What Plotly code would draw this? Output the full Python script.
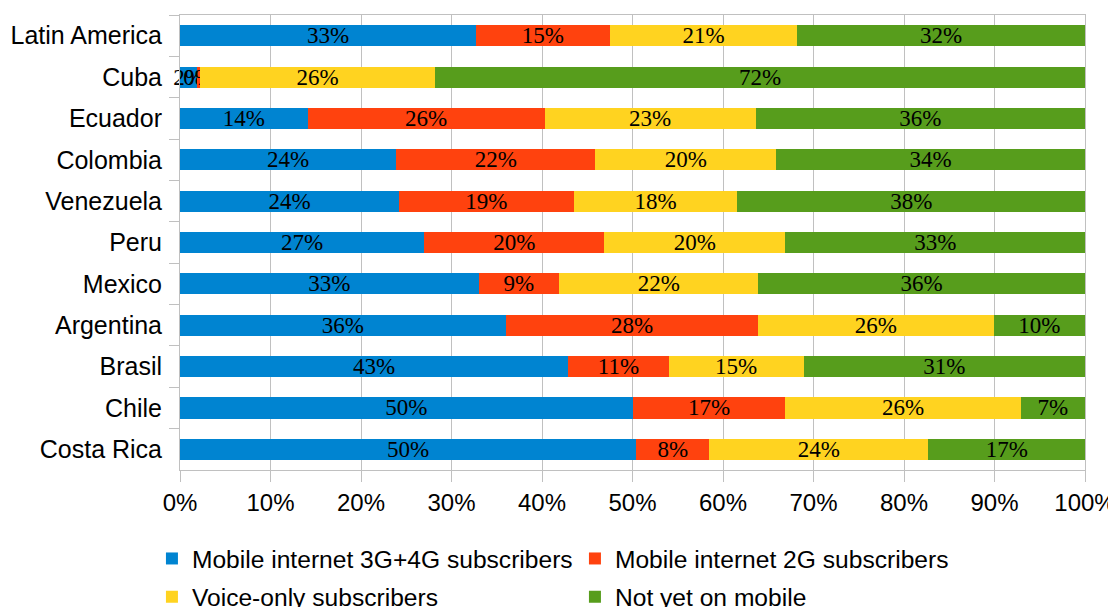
import plotly.graph_objects as go

# categories top to bottom as in the chart
countries = ["Latin America", "Cuba", "Ecuador", "Colombia", "Venezuela", "Peru",
             "Mexico", "Argentina", "Brasil", "Chile", "Costa Rica"]

# shares in percent
mobile_3g4g = [32.7, 1.9, 14.1, 23.9, 24.2, 27.0, 33.0, 36.0, 42.9, 50.0, 50.4]
mobile_2g = [14.8, 0.3, 26.2, 22.0, 19.3, 19.9, 8.9, 27.9, 11.1, 16.9, 8.1]
voice_only = [20.7, 26.0, 23.3, 20.0, 18.1, 20.0, 22.0, 26.0, 14.9, 26.0, 24.2]
not_mobile = [31.8, 71.8, 36.4, 34.1, 38.4, 33.1, 36.1, 10.1, 31.1, 7.1, 17.3]

series = [
    ("Mobile internet 3G+4G subscribers", mobile_3g4g, "#0084d1", "legend"),
    ("Mobile internet 2G subscribers", mobile_2g, "#ff420e", "legend"),
    ("Voice-only subscribers", voice_only, "#ffd320", "legend2"),
    ("Not yet on mobile", not_mobile, "#579d1c", "legend2"),
]

fig = go.Figure()
for naam, waarden, kleur, leg in series:
    fig.add_trace(go.Bar(
        y=countries, x=waarden, name=naam, orientation="h", legend=leg,
        marker=dict(color=kleur, line=dict(width=0)),
        texttemplate="%{x:.0f}%", textposition="inside",
        insidetextanchor="middle", textangle=0, constraintext="none", cliponaxis=False,
        textfont=dict(family="Liberation Serif", size=23, color="black"),
    ))

grijs = "#c0c0c0"
# the page body has an 8px margin, so the figure is 8px smaller than the window
fig.update_layout(
    barmode="stack", bargap=0.49,
    width=1108, height=599,
    margin=dict(l=172, r=31, t=7, b=137, autoexpand=False),
    plot_bgcolor="white", paper_bgcolor="white",
    font=dict(family="Liberation Sans", size=24, color="black"),
    uniformtext=dict(minsize=23, mode="show"),
    legend=dict(orientation="h", x=-0.031, xanchor="left", y=-0.145, yanchor="top",
                entrywidth=378, traceorder="normal",
                font=dict(family="Liberation Sans", size=24.6)),
    legend2=dict(orientation="h", x=-0.031, xanchor="left", y=-0.229, yanchor="top",
                 entrywidth=378, traceorder="normal",
                 font=dict(family="Liberation Sans", size=24.6)),
)
fig.update_xaxes(range=[0, 100], dtick=10, ticksuffix="%", showgrid=True, gridcolor=grijs,
                 zeroline=False, showline=True, mirror=True, linecolor=grijs,
                 ticks="outside", ticklen=11, tickcolor=grijs,
                 tickfont=dict(family="Liberation Sans", size=24))
fig.update_yaxes(autorange="reversed", tickson="boundaries", ticks="outside", ticklen=10,
                 tickcolor=grijs, showgrid=False, showline=True, mirror=True, linecolor=grijs,
                 ticklabelstandoff=12, tickfont=dict(family="Liberation Sans", size=25))

fig.write_html("out.html")
